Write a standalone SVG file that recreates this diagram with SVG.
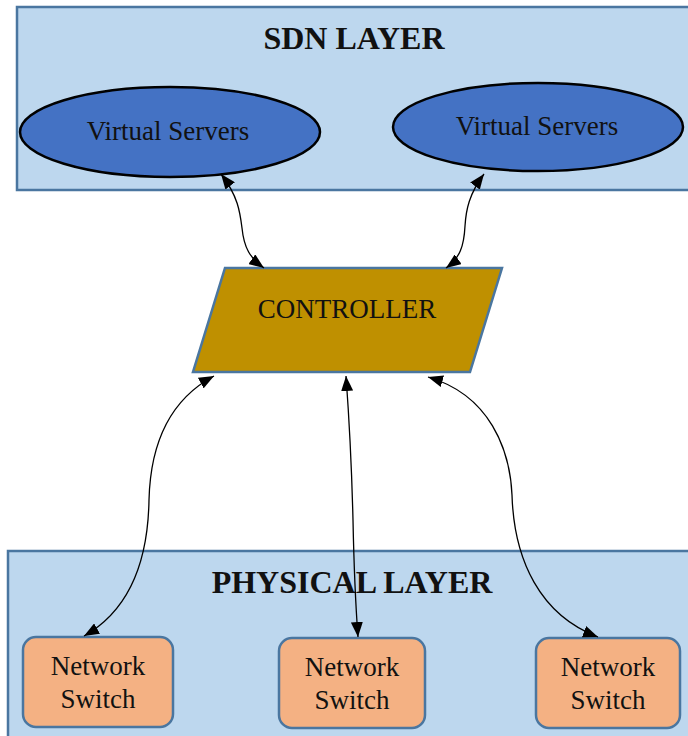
<svg xmlns="http://www.w3.org/2000/svg" width="688" height="736" viewBox="0 0 688 736">
  <style>
    .layer { fill: #BDD7EE; stroke: #4A76A0; stroke-width: 2.5; }
    .title { font-family: "Liberation Serif", "Times New Roman", serif; font-weight: bold; font-size: 32px; fill: #111; text-anchor: middle; }
    .label { font-family: "Liberation Serif", "Times New Roman", serif; font-size: 27px; fill: #111; text-anchor: middle; }
    .server { fill: #4472C4; stroke: #000; stroke-width: 2.5; }
    .ctrl { fill: #BF9000; stroke: #4A76A0; stroke-width: 2.5; }
    .switch { fill: #F4B183; stroke: #4A76A0; stroke-width: 2.5; }
    .link { fill: none; stroke: #000; stroke-width: 1.3; marker-start: url(#arrow); marker-end: url(#arrow); }
  </style>
  <defs>
    <marker id="arrow" markerUnits="userSpaceOnUse" markerWidth="16" markerHeight="12" refX="15" refY="6" orient="auto-start-reverse">
      <path d="M0,0 L15,6 L0,12 z" fill="#000"/>
    </marker>
  </defs>
  <rect width="688" height="736" fill="#fff"/>

  <!-- layers -->
  <g id="sdn-layer">
    <rect class="layer" x="17" y="7" width="680" height="183"/>
    <text class="title" x="354" y="49">SDN LAYER</text>
  </g>
  <g id="physical-layer">
    <rect class="layer" x="8" y="551" width="690" height="195"/>
    <text class="title" x="352" y="593">PHYSICAL LAYER</text>
  </g>

  <!-- SDN nodes -->
  <g id="vs1">
    <ellipse class="server" cx="170" cy="132" rx="150" ry="45"/>
    <text class="label" x="168" y="140">Virtual Servers</text>
  </g>
  <g id="vs2">
    <ellipse class="server" cx="538" cy="127" rx="145" ry="44"/>
    <text class="label" x="537" y="135">Virtual Servers</text>
  </g>

  <!-- controller -->
  <g id="controller">
    <polygon class="ctrl" points="225,268 502,268 470,372 193,372"/>
    <text class="label" x="347" y="318">CONTROLLER</text>
  </g>

  <!-- switches -->
  <g id="switch1">
    <rect class="switch" x="23" y="637" width="150" height="90" rx="13"/>
    <text class="label" x="98" y="675">Network</text>
    <text class="label" x="98" y="708">Switch</text>
  </g>
  <g id="switch2">
    <rect class="switch" x="279" y="638" width="146" height="90" rx="13"/>
    <text class="label" x="352" y="676">Network</text>
    <text class="label" x="352" y="709">Switch</text>
  </g>
  <g id="switch3">
    <rect class="switch" x="536" y="638" width="144" height="90" rx="13"/>
    <text class="label" x="608" y="676">Network</text>
    <text class="label" x="608" y="709">Switch</text>
  </g>

  <!-- connectors -->
  <g id="connectors">
    <path class="link" d="M221,174 C238,196 240,212 242,228 C244,248 250,258 264,268"/>
    <path class="link" d="M484,174 C469,194 466,210 465,226 C464,246 460,258 446,268"/>
    <path class="link" d="M214,376 C160,405 150,460 149,500 C148,560 130,610 84,636"/>
    <path class="link" d="M346,376 C350,430 352,480 353,520 C354,570 356,610 358,637"/>
    <path class="link" d="M428,377 C490,395 510,450 512,495 C514,560 540,615 598,637"/>
  </g>
</svg>
